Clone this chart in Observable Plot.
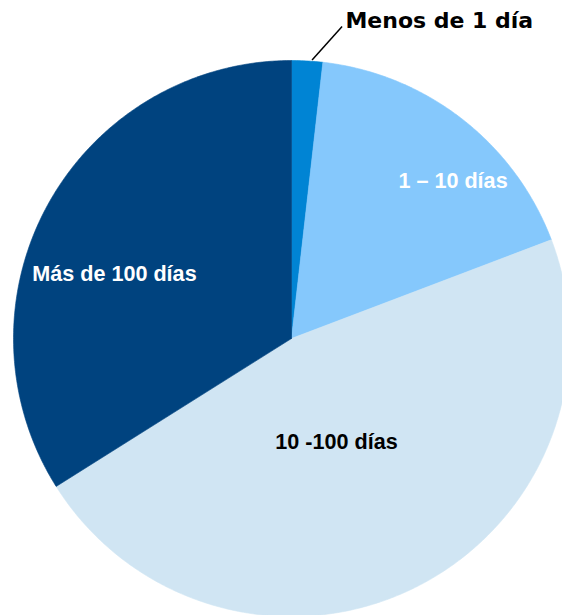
<!DOCTYPE html>
<html>
<head>
<meta charset="utf-8">
<script src="https://cdn.jsdelivr.net/npm/d3@7"></script>
<script src="https://cdn.jsdelivr.net/npm/@observablehq/plot@0.6"></script>
<style>
  html, body { margin: 0; padding: 0; background: #fff; overflow: hidden; }
</style>
</head>
<body>
<div id="chart"></div>
<script>
const categories = ["Menos de 1 día", "1 – 10 días", "10 -100 días", "Más de 100 días"];
const values = [1.8, 17.4, 46.8, 33.9];
const colors = ["#0084d4", "#85c8fc", "#d0e5f3", "#00437f"];
const labelColors = ["#000", "#fff", "#000", "#fff"];

// Pie geometry (angles: 0 at 12 o'clock, clockwise)
const arcs = d3.pie().sort(null).value(d => d)(values);
const polys = [];
arcs.forEach((a, i) => {
  const cat = categories[i];
  polys.push({cat, x: 0, y: 0});
  const steps = Math.max(4, Math.ceil((a.endAngle - a.startAngle) / (Math.PI / 360)));
  for (let k = 0; k <= steps; k++) {
    const t = a.startAngle + (a.endAngle - a.startAngle) * k / steps;
    polys.push({cat, x: Math.sin(t), y: Math.cos(t)});
  }
  polys.push({cat, x: 0, y: 0});
});

// label placement (data coordinates, unit radius)
const labelPos = [
  {x: 0.194, y: 1.141, anchor: "start", size: 22, font: "DejaVu Sans"},
  {x: 0.581, y: 0.568, anchor: "middle", size: 21.6, font: "Liberation Sans"},
  {x: 0.162, y: -0.374, anchor: "middle", size: 21.6, font: "Liberation Sans"},
  {x: -0.637, y: 0.230, anchor: "middle", size: 21.6, font: "Liberation Sans"}
];
const labels = categories.map((c, i) => ({text: c, color: labelColors[i], ...labelPos[i]}));
const leader = [{x1: 0.074, y1: 1.002, x2: 0.182, y2: 1.122}];

const chart = Plot.plot({
  width: 562,
  height: 615,
  margin: 0,
  style: {background: "#fff", overflow: "hidden", fontFamily: "Liberation Sans"},
  x: {domain: [-1, 271 / 278], range: [13, 562], axis: null},
  y: {domain: [-277 / 278, 1], range: [615, 60], axis: null},
  color: {domain: categories, range: colors},
  marks: [
    Plot.line(polys, {x: "x", y: "y", z: "cat", fill: "cat", stroke: "cat", strokeWidth: 0.6, curve: "linear"}),
    Plot.link(leader, {x1: "x1", y1: "y1", x2: "x2", y2: "y2", stroke: "#000", strokeWidth: 1.5}),
    ...labels.map(l => Plot.text([l], {
      x: "x", y: "y", text: "text", fill: l.color, textAnchor: l.anchor,
      fontSize: l.size, fontWeight: "bold", fontFamily: l.font
    }))
  ]
});
document.getElementById("chart").appendChild(chart);
</script>
</body>
</html>
